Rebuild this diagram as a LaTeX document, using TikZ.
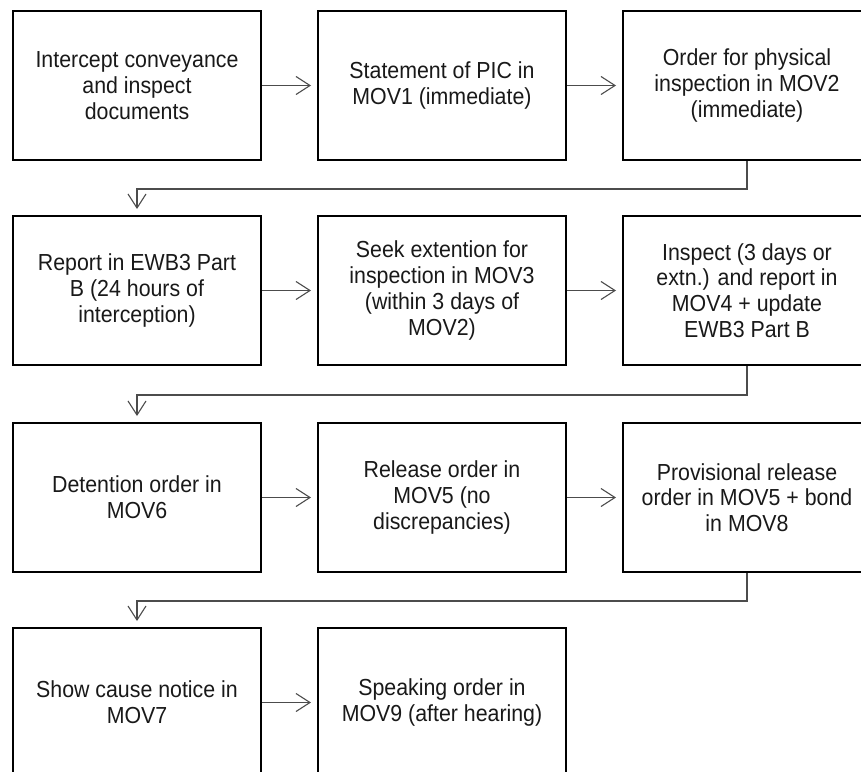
\documentclass[tikz,border=0pt]{standalone}
\usepackage{fontspec}
\setmainfont{Liberation Sans}
\newfontfamily\boxfont[FakeStretch=0.92]{Liberation Sans}
\usetikzlibrary{arrows.meta}
\begin{document}
\begin{tikzpicture}[x=1pt,y=-1pt,
  box/.style={draw=black, line width=2pt, fill=white, minimum width=248pt, minimum height=149pt,
    inner sep=0pt, align=center, text=black!90, font=\boxfont\fontsize{23.2}{25.8}\selectfont},
  conn/.style={draw=black!70, line width=1.3pt, -{Straight Barb[length=14pt,width=18pt,line width=1.1pt]}, shorten >=6pt}]
\useasboundingbox (0,0) rectangle (861,771);
\clip (0,0) rectangle (861,771);
% row 1
\node[box] (b1) at (137,85.5) {Intercept conveyance\\and inspect\\documents};
\node[box] (b2) at (442,85.5) {Statement of PIC in\\MOV1 (immediate)};
\node[box] (b3) at (747,85.5) {Order for physical\\inspection in MOV2\\(immediate)};
% row 2
\node[box] (b4) at (137,290.5) {Report in EWB3 Part\\B (24 hours of\\interception)};
\node[box] (b5) at (442,290.5) {Seek extention for\\inspection in MOV3\\(within 3 days of\\MOV2)};
\node[box] (b6) at (747,290.5) {Inspect (3 days or\\extn.) and report in\\MOV4 + update\\EWB3 Part B};
% row 3
\node[box] (b7) at (137,497.5) {Detention order in\\MOV6};
\node[box] (b8) at (442,497.5) {Release order in\\MOV5 (no\\discrepancies)};
\node[box] (b9) at (747,497.5) {Provisional release\\order in MOV5 + bond\\in MOV8};
% row 4
\node[box] (b10) at (137,702.5) {Show cause notice in\\MOV7};
\node[box] (b11) at (442,702.5) {Speaking order in\\MOV9 (after hearing)};
% horizontal connectors
\draw[conn] (b1) -- (b2);
\draw[conn] (b2) -- (b3);
\draw[conn] (b4) -- (b5);
\draw[conn] (b5) -- (b6);
\draw[conn] (b7) -- (b8);
\draw[conn] (b8) -- (b9);
\draw[conn] (b10) -- (b11);
% elbow connectors
\draw[conn] (b3.south) -- (b3.south |- 0,189) -| (b4.north);
\draw[conn] (b6.south) -- (b6.south |- 0,395) -| (b7.north);
\draw[conn] (b9.south) -- (b9.south |- 0,601) -| (b10.north);
\end{tikzpicture}
\end{document}
